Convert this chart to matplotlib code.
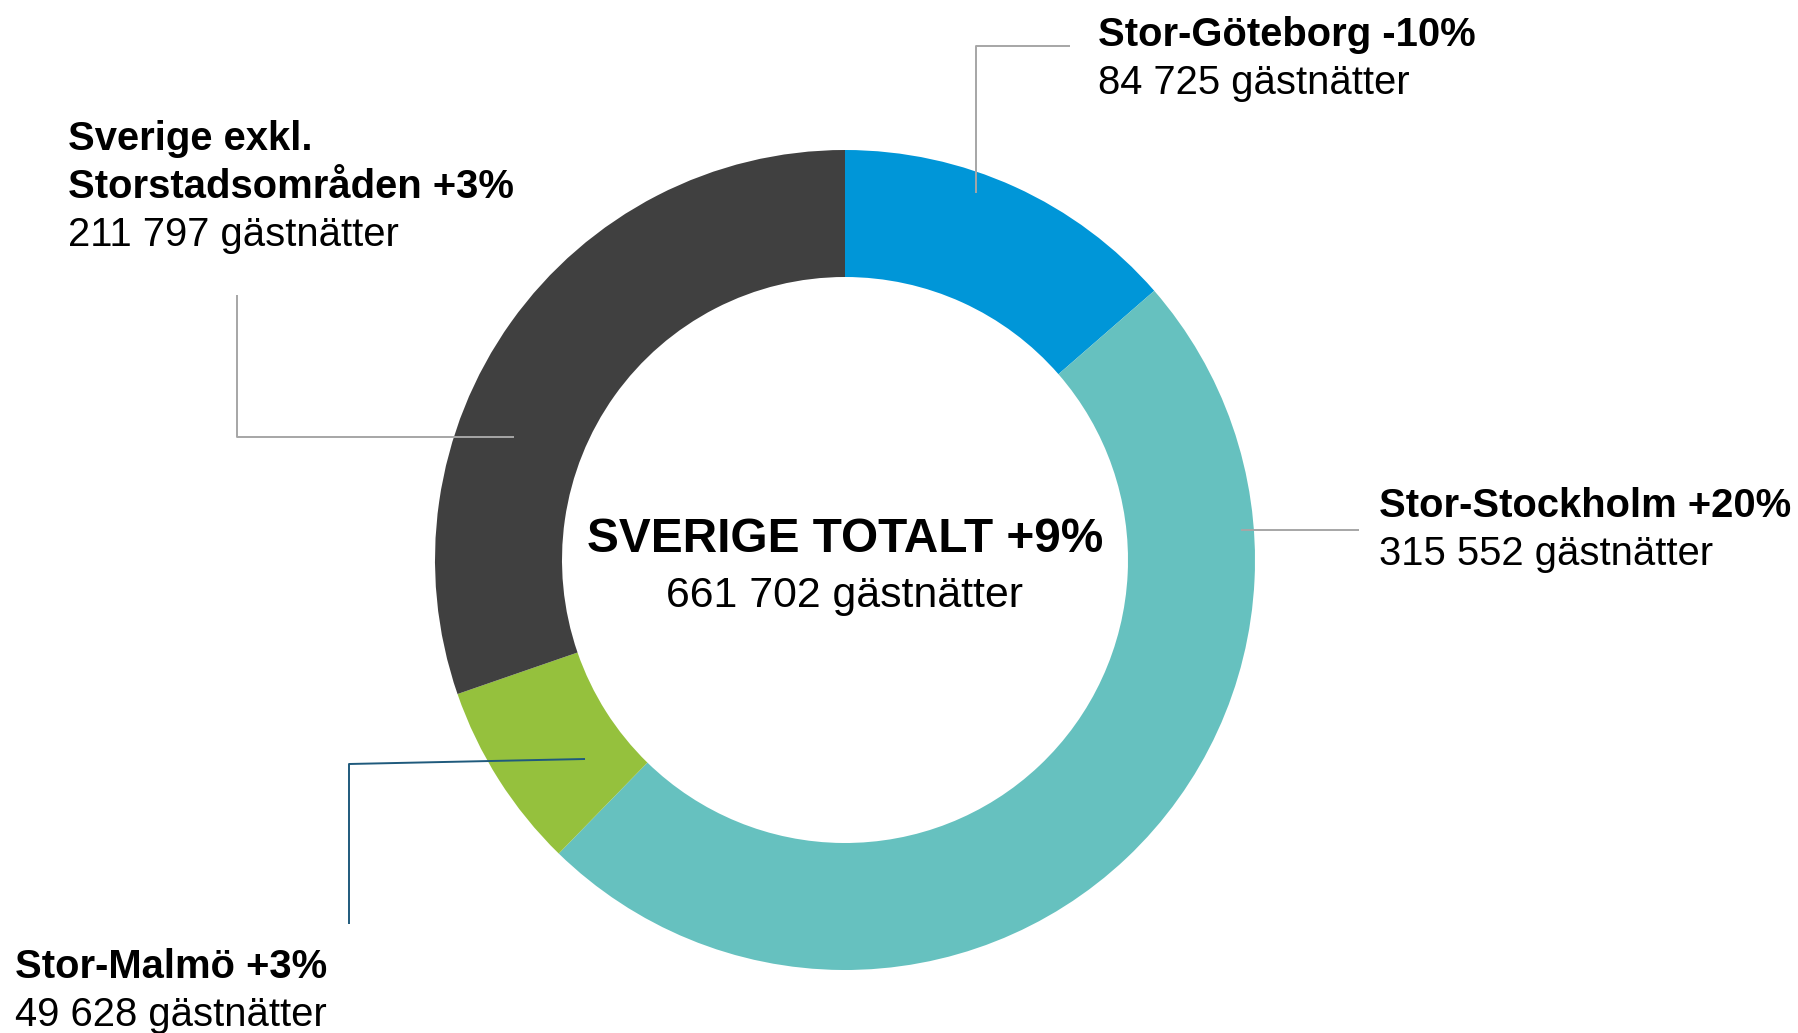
import matplotlib
matplotlib.use("Agg")
import matplotlib.pyplot as plt

plt.rcParams['font.family'] = ['Liberation Sans', 'DejaVu Sans']

# data
regions = ['Stor-Göteborg', 'Stor-Stockholm', 'Stor-Malmö', 'Sverige exkl.\nStorstadsområden']
nights = [84725, 315552, 49628, 211797]
changes = ['-10%', '+20%', '+3%', '+3%']
# slice sizes as drawn in the original (share in %, read off the ring; they
# differ a little from the labelled nights)
slice_share = [13.6, 48.7, 7.4, 30.3]
total_label = 'SVERIGE TOTALT +9%'
total_nights = 661702
colors = ['#0096D8', '#66C1BF', '#95C13D', '#404040']

W, H = 1798, 1033


def fmt(n):
    return f"{n:,}".replace(",", " ") + " gästnätter"


fig = plt.figure(figsize=(W / 100, H / 100), dpi=100)
ax = fig.add_axes([0, 0, 1, 1])

# donut (pixel coords, y measured from the top)
cx, cy, r = 845, 560, 410
ax.pie(slice_share, colors=colors, startangle=90, counterclock=False,
       center=(cx, H - cy), radius=r,
       wedgeprops=dict(width=127, linewidth=0))
ax.set_xlim(0, W)
ax.set_ylim(0, H)
ax.set_aspect('equal')
ax.axis('off')

# label layout: text anchor (x, y of first line), leader polyline, line colour
layout = [
    ((1098, 35), [(1070, 46), (976, 46), (976, 193)], '#A6A6A6'),
    ((1379, 506), [(1359, 530), (1241, 530)], '#A6A6A6'),
    ((15, 967), [(585, 759), (349, 764), (349, 924)], '#1F5A7C'),
    ((68, 139), [(514, 437), (237, 437), (237, 295)], '#A6A6A6'),
]
step = 48
for name, n, ch, (pos, line, lc) in zip(regions, nights, changes, layout):
    xs = [p[0] for p in line]
    ys = [H - p[1] for p in line]
    ax.plot(xs, ys, color=lc, lw=1.4, solid_capstyle='butt')
    tx, ty = pos
    parts = (name + ' ' + ch).split('\n')
    for i, t in enumerate(parts):
        ax.text(tx, H - (ty + i * step), t, fontsize=28.8, fontweight='bold',
                ha='left', va='center')
    ax.text(tx, H - (ty + len(parts) * step), fmt(n), fontsize=28.8,
            ha='left', va='center')

ax.text(cx, H - 539, total_label, fontsize=34.4, fontweight='bold',
        ha='center', va='center')
ax.text(cx, H - 596, fmt(total_nights), fontsize=30.9, ha='center', va='center')

fig.savefig('out.png', dpi=100, facecolor='white')
